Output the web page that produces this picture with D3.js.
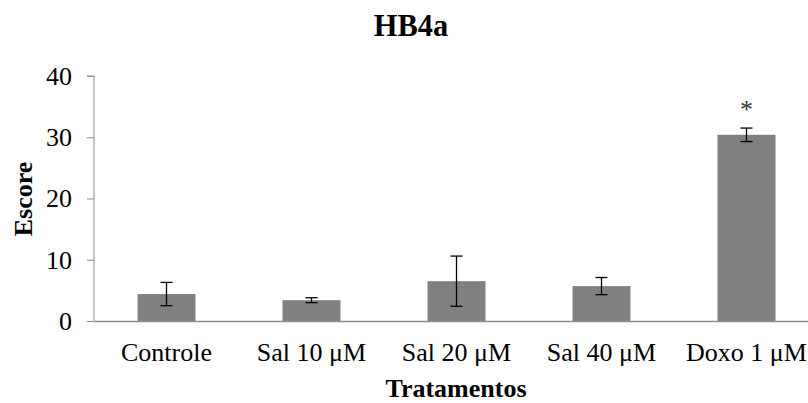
<!DOCTYPE html>
<html>
<head>
<meta charset="utf-8">
<script src="https://cdn.jsdelivr.net/npm/d3@7"></script>
<style>
body { margin: 0; background: #fff; }
svg text { font-family: "Liberation Serif", "Times New Roman", serif !important; }
</style>
</head>
<body>
<script>
let categories = ["Controle", "Sal 10 \u03bcM", "Sal 20 \u03bcM", "Sal 40 \u03bcM", "Doxo 1 \u03bcM"];
let means = [4.4, 3.4, 6.5, 5.7, 30.4];
let errors = [1.9, 0.4, 4.1, 1.4, 1.1];
let signif = ["", "", "", "", "*"];
let yTicks = [0, 10, 20, 30, 40];

let width = 808,
	height = 403;

let svg = d3.select("body").append("svg").attr("width", width).attr("height", height);

let x = d3.scaleBand()
	.domain(categories)
	.range([94, 819])
	.paddingInner(0.6)
	.paddingOuter(0.3);

let y = d3.scaleLinear()
	.domain([0, 40])
	.range([321, 76]);

// y axis
let yAxis = svg.append("g")
	.attr("transform", "translate(94,0)")
	.call(d3.axisLeft(y).tickValues(yTicks).tickSize(7).tickPadding(15));
yAxis.select(".domain").attr("stroke", "#8c8c8c").attr("d", "M-7," + y(40) + "H0V" + y(0));
yAxis.selectAll(".tick line").attr("stroke", "#8c8c8c");
yAxis.selectAll(".tick text").attr("font-size", 26).attr("fill", "#000");

// bars
svg.selectAll(".bar").data(means).enter().append("rect")
	.attr("x", (d, i) => x(categories[i]))
	.attr("y", d => y(d))
	.attr("width", x.bandwidth())
	.attr("height", d => y(0) - y(d))
	.attr("fill", "#808080");

// x axis
let xAxis = svg.append("g")
	.attr("transform", "translate(0," + y(0) + ")")
	.call(d3.axisBottom(x).tickSize(0).tickPadding(22));
xAxis.select(".domain").attr("stroke", "#8c8c8c").attr("stroke-width", 1.5);
xAxis.selectAll(".tick text").attr("font-size", 26).attr("fill", "#000");

// error bars
let eb = svg.selectAll(".err").data(means).enter().append("g")
	.attr("stroke", "#000").attr("stroke-width", 1.3);
eb.append("line")
	.attr("x1", (d, i) => x(categories[i]) + x.bandwidth() / 2)
	.attr("x2", (d, i) => x(categories[i]) + x.bandwidth() / 2)
	.attr("y1", (d, i) => y(d + errors[i]))
	.attr("y2", (d, i) => y(d - errors[i]));
eb.append("line")
	.attr("x1", (d, i) => x(categories[i]) + x.bandwidth() / 2 - 6)
	.attr("x2", (d, i) => x(categories[i]) + x.bandwidth() / 2 + 6)
	.attr("y1", (d, i) => y(d + errors[i]))
	.attr("y2", (d, i) => y(d + errors[i]));
eb.append("line")
	.attr("x1", (d, i) => x(categories[i]) + x.bandwidth() / 2 - 6)
	.attr("x2", (d, i) => x(categories[i]) + x.bandwidth() / 2 + 6)
	.attr("y1", (d, i) => y(d - errors[i]))
	.attr("y2", (d, i) => y(d - errors[i]));

// significance marks
svg.selectAll(".sig").data(means).enter().append("text")
	.attr("x", (d, i) => x(categories[i]) + x.bandwidth() / 2)
	.attr("y", (d, i) => y(d + errors[i]) - 10)
	.attr("text-anchor", "middle")
	.attr("font-size", 26)
	.attr("fill", "#333")
	.text((d, i) => signif[i]);

// title + axis titles
svg.append("text")
	.attr("x", 411).attr("y", 36)
	.attr("text-anchor", "middle")
	.attr("font-size", 32).attr("font-weight", "bold")
	.attr("transform", "translate(411,0) scale(0.95,1) translate(-411,0)")
	.text("HB4a");

svg.append("text")
	.attr("transform", "translate(32,199) rotate(-90)")
	.attr("text-anchor", "middle")
	.attr("font-size", 26).attr("font-weight", "bold")
	.text("Escore");

svg.append("text")
	.attr("x", 456).attr("y", 397)
	.attr("text-anchor", "middle")
	.attr("font-size", 26).attr("font-weight", "bold")
	.text("Tratamentos");
</script>
</body>
</html>
